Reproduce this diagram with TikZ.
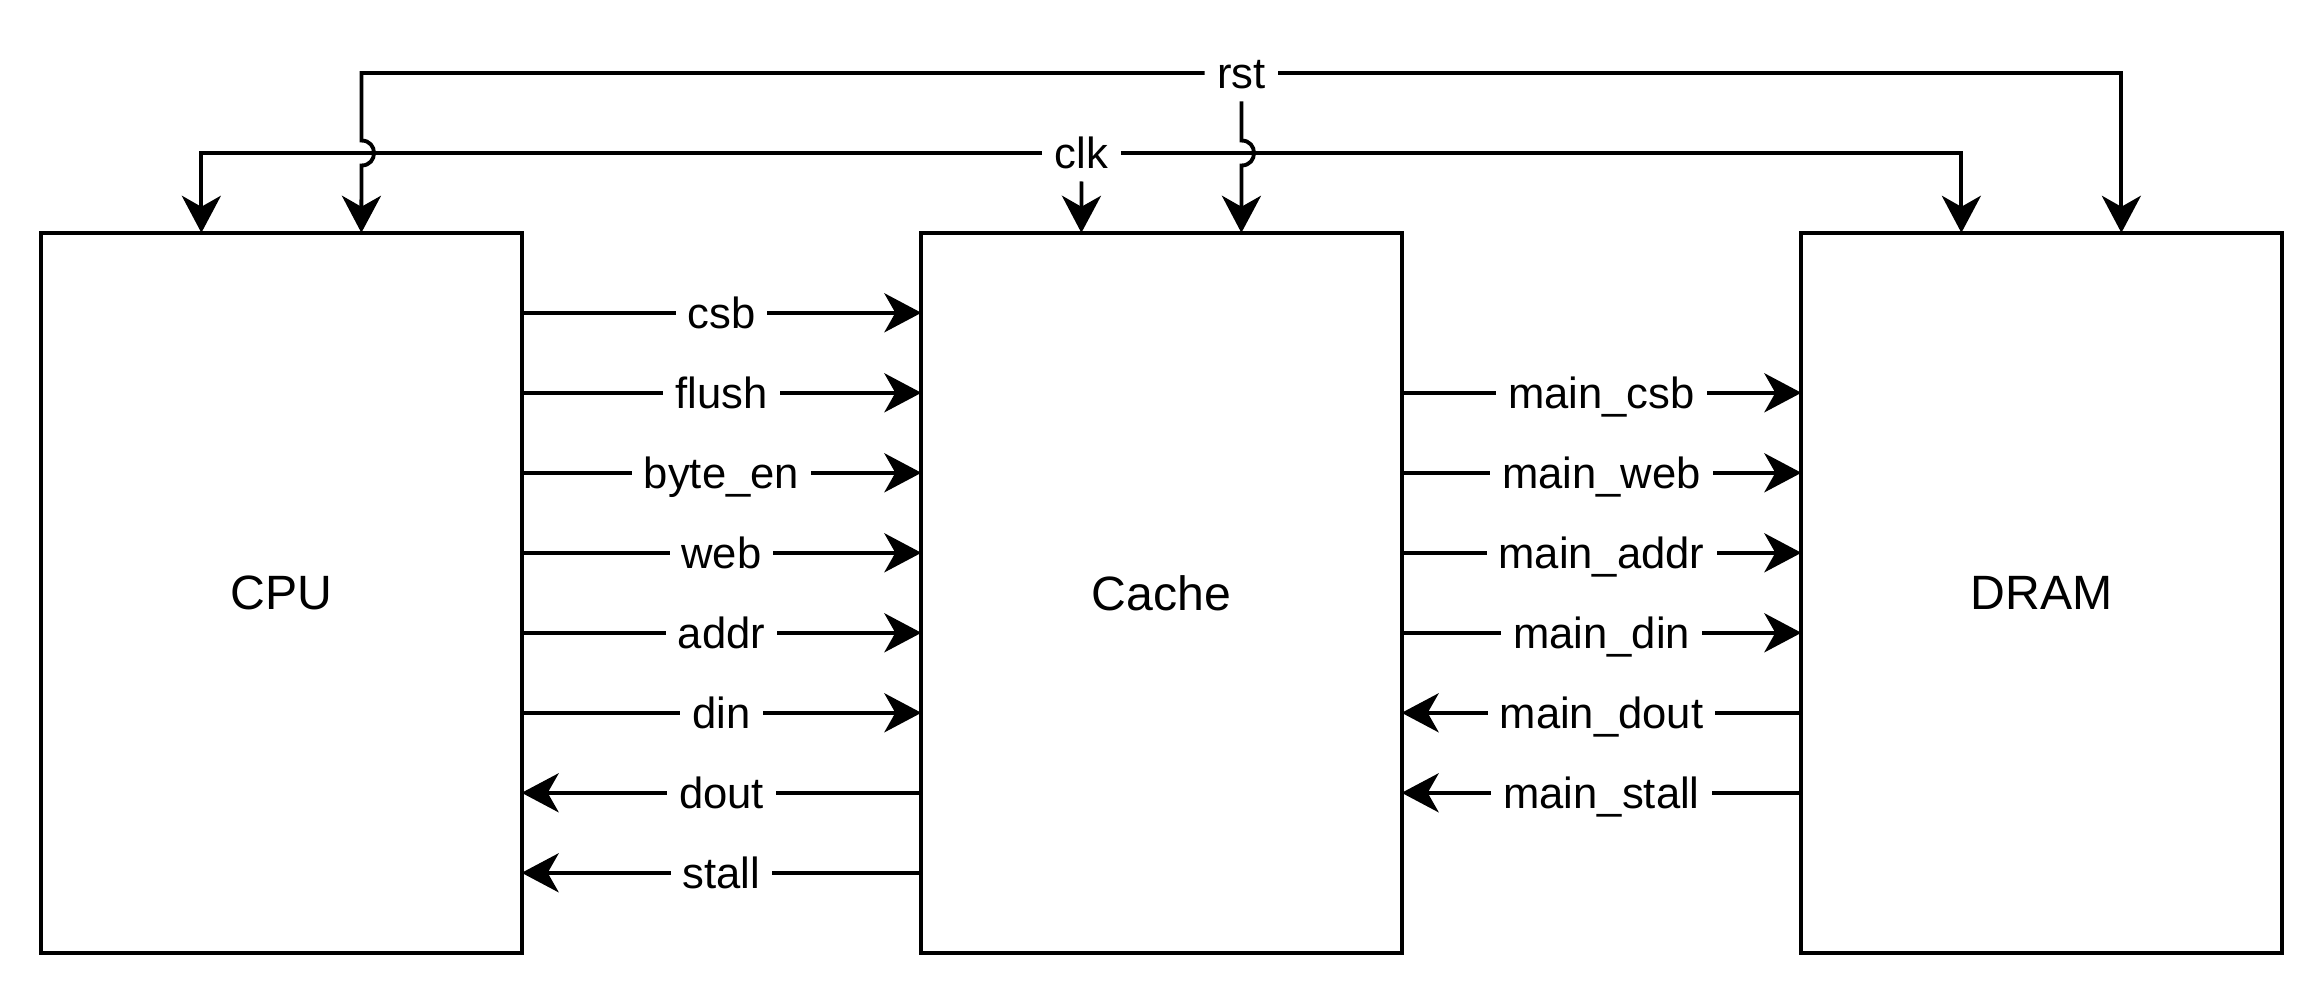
\documentclass[tikz,border=0pt]{standalone}
\usepackage{fontspec}
\setmainfont{Liberation Sans}
\usetikzlibrary{arrows.meta,calc}
\begin{document}
\begin{tikzpicture}[x=0.01cm,y=-0.01cm,
  box/.style={draw,line width=1.1pt,minimum width=4.8cm,minimum height=7.2cm,inner sep=0pt,outer sep=0pt,font=\fontsize{13.7pt}{16pt}\selectfont},
  lab/.style={fill=white,inner xsep=3.4pt,inner ysep=0.6pt,text height=11.7pt,text depth=2.9pt,font=\fontsize{12.4pt}{14pt}\selectfont},
  wire/.style={line width=1.1pt},
  arr/.style={wire,-{Stealth[length=0.37cm,width=0.39cm,inset=0.11cm]}}]
\useasboundingbox (0,0) rectangle (2324,996);

\node[box] (cpu) at (281.5,593) {CPU};
\node[box] (cache) at (1161.5,593) {Cache};
\node[box] (dram) at (2041.5,593) {DRAM};

% CPU -> Cache
\foreach \k/\t in {1/{csb},2/{flush},3/{byte\_en},4/{web},5/{addr},6/{din}}
  \draw[arr] ($(cpu.north east)+(0,80*\k)$) -- node[lab]{\t} ($(cache.north west)+(0,80*\k)$);
% Cache -> CPU
\foreach \k/\t in {7/{dout},8/{stall}}
  \draw[arr] ($(cache.north west)+(0,80*\k)$) -- node[lab]{\t} ($(cpu.north east)+(0,80*\k)$);
% Cache -> DRAM
\foreach \k/\t in {2/{main\_csb},3/{main\_web},4/{main\_addr},5/{main\_din}}
  \draw[arr] ($(cache.north east)+(0,80*\k)$) -- node[lab]{\t} ($(dram.north west)+(0,80*\k)$);
% DRAM -> Cache
\foreach \k/\t in {6/{main\_dout},7/{main\_stall}}
  \draw[arr] ($(dram.north west)+(0,80*\k)$) -- node[lab]{\t} ($(cache.north east)+(0,80*\k)$);

% clock and reset
\node[lab] (rstl) at (1241.5,73) {rst};
\node[lab] (clkl) at (1081.5,153) {clk};

\draw[arr] (clkl.west) -| ($(cpu.north west)+(160,0)$);
\draw[arr] (clkl.east) -| ($(dram.north west)+(160,0)$);
\draw[arr] (clkl.south) -- ($(cache.north west)+(160,0)$);

\draw[arr] (rstl.west) -- (361.5,73) -- (361.5,140.5)
  .. controls (378.2,140.5) and (378.2,165.5) .. (361.5,165.5)
  -- ($(cpu.north west)+(320,0)$);
\draw[arr] (rstl.east) -| ($(dram.north west)+(320,0)$);
\draw[arr] (rstl.south) -- (1241.5,140.5)
  .. controls (1258.2,140.5) and (1258.2,165.5) .. (1241.5,165.5)
  -- ($(cache.north west)+(320,0)$);
\end{tikzpicture}
\end{document}
